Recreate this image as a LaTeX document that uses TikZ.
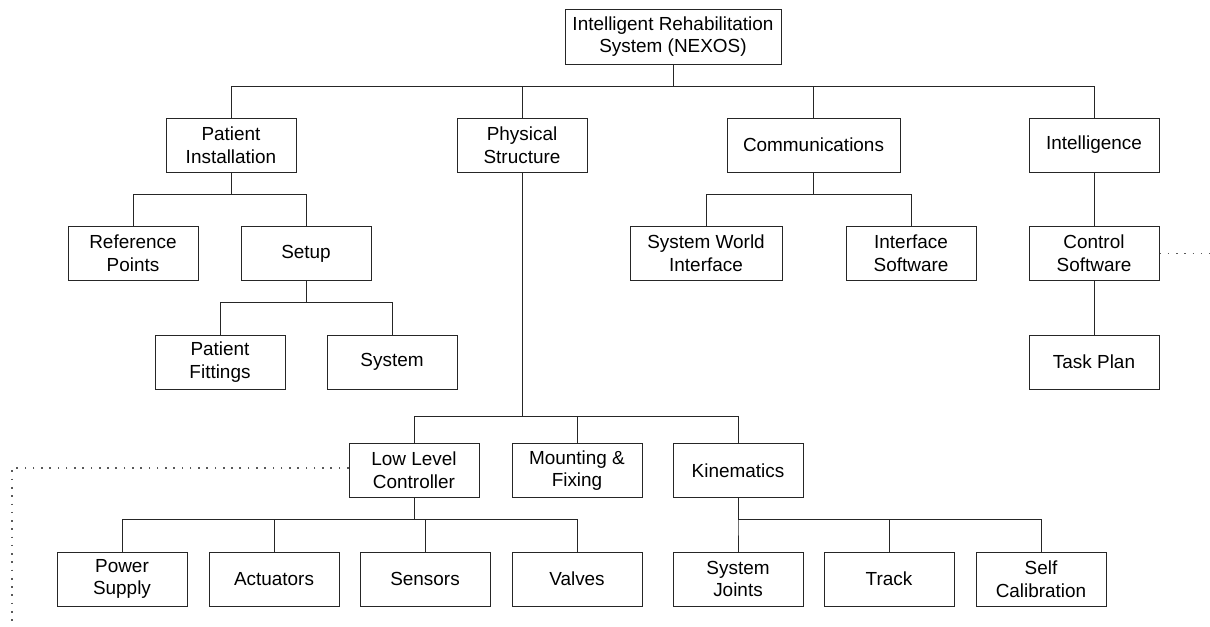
\documentclass[tikz,border=0pt]{standalone}
\usepackage{fontspec}
\setmainfont{Liberation Sans}

\begin{document}
\begin{tikzpicture}[x=0.75pt, y=-0.75pt,
    box/.style={draw=black!85, line width=0.75pt, minimum width=97.5pt, minimum height=40.5pt,
        inner sep=0pt, align=center, font=\fontsize{14.2}{17}\selectfont},
    link/.style={draw=black!85, line width=0.75pt},
    hint/.style={line width=1.2pt, black!65, dash pattern=on 1.2pt off 5pt}]
    \useasboundingbox (0,0) rectangle (1210,626);

    % Top level
    \node[box, minimum width=162pt, minimum height=41.25pt] (nexos) at (673,36.5)
        {Intelligent Rehabilitation\\System (NEXOS)};

    % Second level
    \node[box] (patinst) at (231,145) {Patient\\Installation};
    \node[box] (physical) at (522,145) {Physical\\Structure};
    \node[box, minimum width=129.75pt] (comms) at (813.5,145) {Communications};
    \node[box] (intel) at (1094,145) {Intelligence};

    % Third level
    \node[box] (refpoints) at (133,253.5) {Reference\\Points};
    \node[box] (setup) at (306,253.5) {Setup};
    \node[box, minimum width=114pt] (worldif) at (706,253.5) {System World\\Interface};
    \node[box] (ifsoft) at (911,253.5) {Interface\\Software};
    \node[box] (ctrlsoft) at (1094,253.5) {Control\\Software};

    \node[box] (fittings) at (220,362) {Patient\\Fittings};
    \node[box] (system) at (392,362) {System};
    \node[box] (taskplan) at (1094,362) {Task Plan};

    % Physical structure
    \node[box] (lowlevel) at (414,470.5) {Low Level\\Controller};
    \node[box] (mounting) at (577,470.5) {Mounting \&\\Fixing};
    \node[box] (kinematics) at (738,470.5) {Kinematics};

    \node[box] (power) at (122,579) {Power\\Supply};
    \node[box] (actuators) at (274,579) {Actuators};
    \node[box] (sensors) at (425,579) {Sensors};
    \node[box] (valves) at (577,579) {Valves};
    \node[box] (joints) at (738,579) {System\\Joints};
    \node[box] (track) at (889,579) {Track};
    \node[box] (selfcal) at (1041,579) {Self\\Calibration};

    % Tree links
    \foreach \c in {patinst,physical,comms,intel}
        \draw[link] (nexos.south) -- ++(0,22) -| (\c.north);
    \foreach \c in {refpoints,setup}
        \draw[link] (patinst.south) -- ++(0,22) -| (\c.north);
    \foreach \c in {worldif,ifsoft}
        \draw[link] (comms.south) -- ++(0,22) -| (\c.north);
    \foreach \c in {fittings,system}
        \draw[link] (setup.south) -- ++(0,21) -| (\c.north);
    \foreach \c in {lowlevel,mounting,kinematics}
        \draw[link] (physical.south) -- ++(0,244) -| (\c.north);
    \foreach \c in {power,actuators,sensors,valves}
        \draw[link] (lowlevel.south) -- ++(0,21) -| (\c.north);
    \foreach \c in {joints,track,selfcal}
        \draw[link] (kinematics.south) -- ++(0,21.5) -| (\c.north);
    \draw[link] (intel) -- (ctrlsoft);
    \draw[link] (ctrlsoft) -- (taskplan);

    % Dotted continuations
    \coordinate (rightend) at (1210,253.5);
    \coordinate (leftcorner) at (12,468);
    \coordinate (leftend) at (12,626);
    \draw[hint] (ctrlsoft.east) -- (rightend);
    \draw[hint] (lowlevel.west |- leftcorner) -- (leftcorner) -- (leftend);
\end{tikzpicture}
\end{document}
